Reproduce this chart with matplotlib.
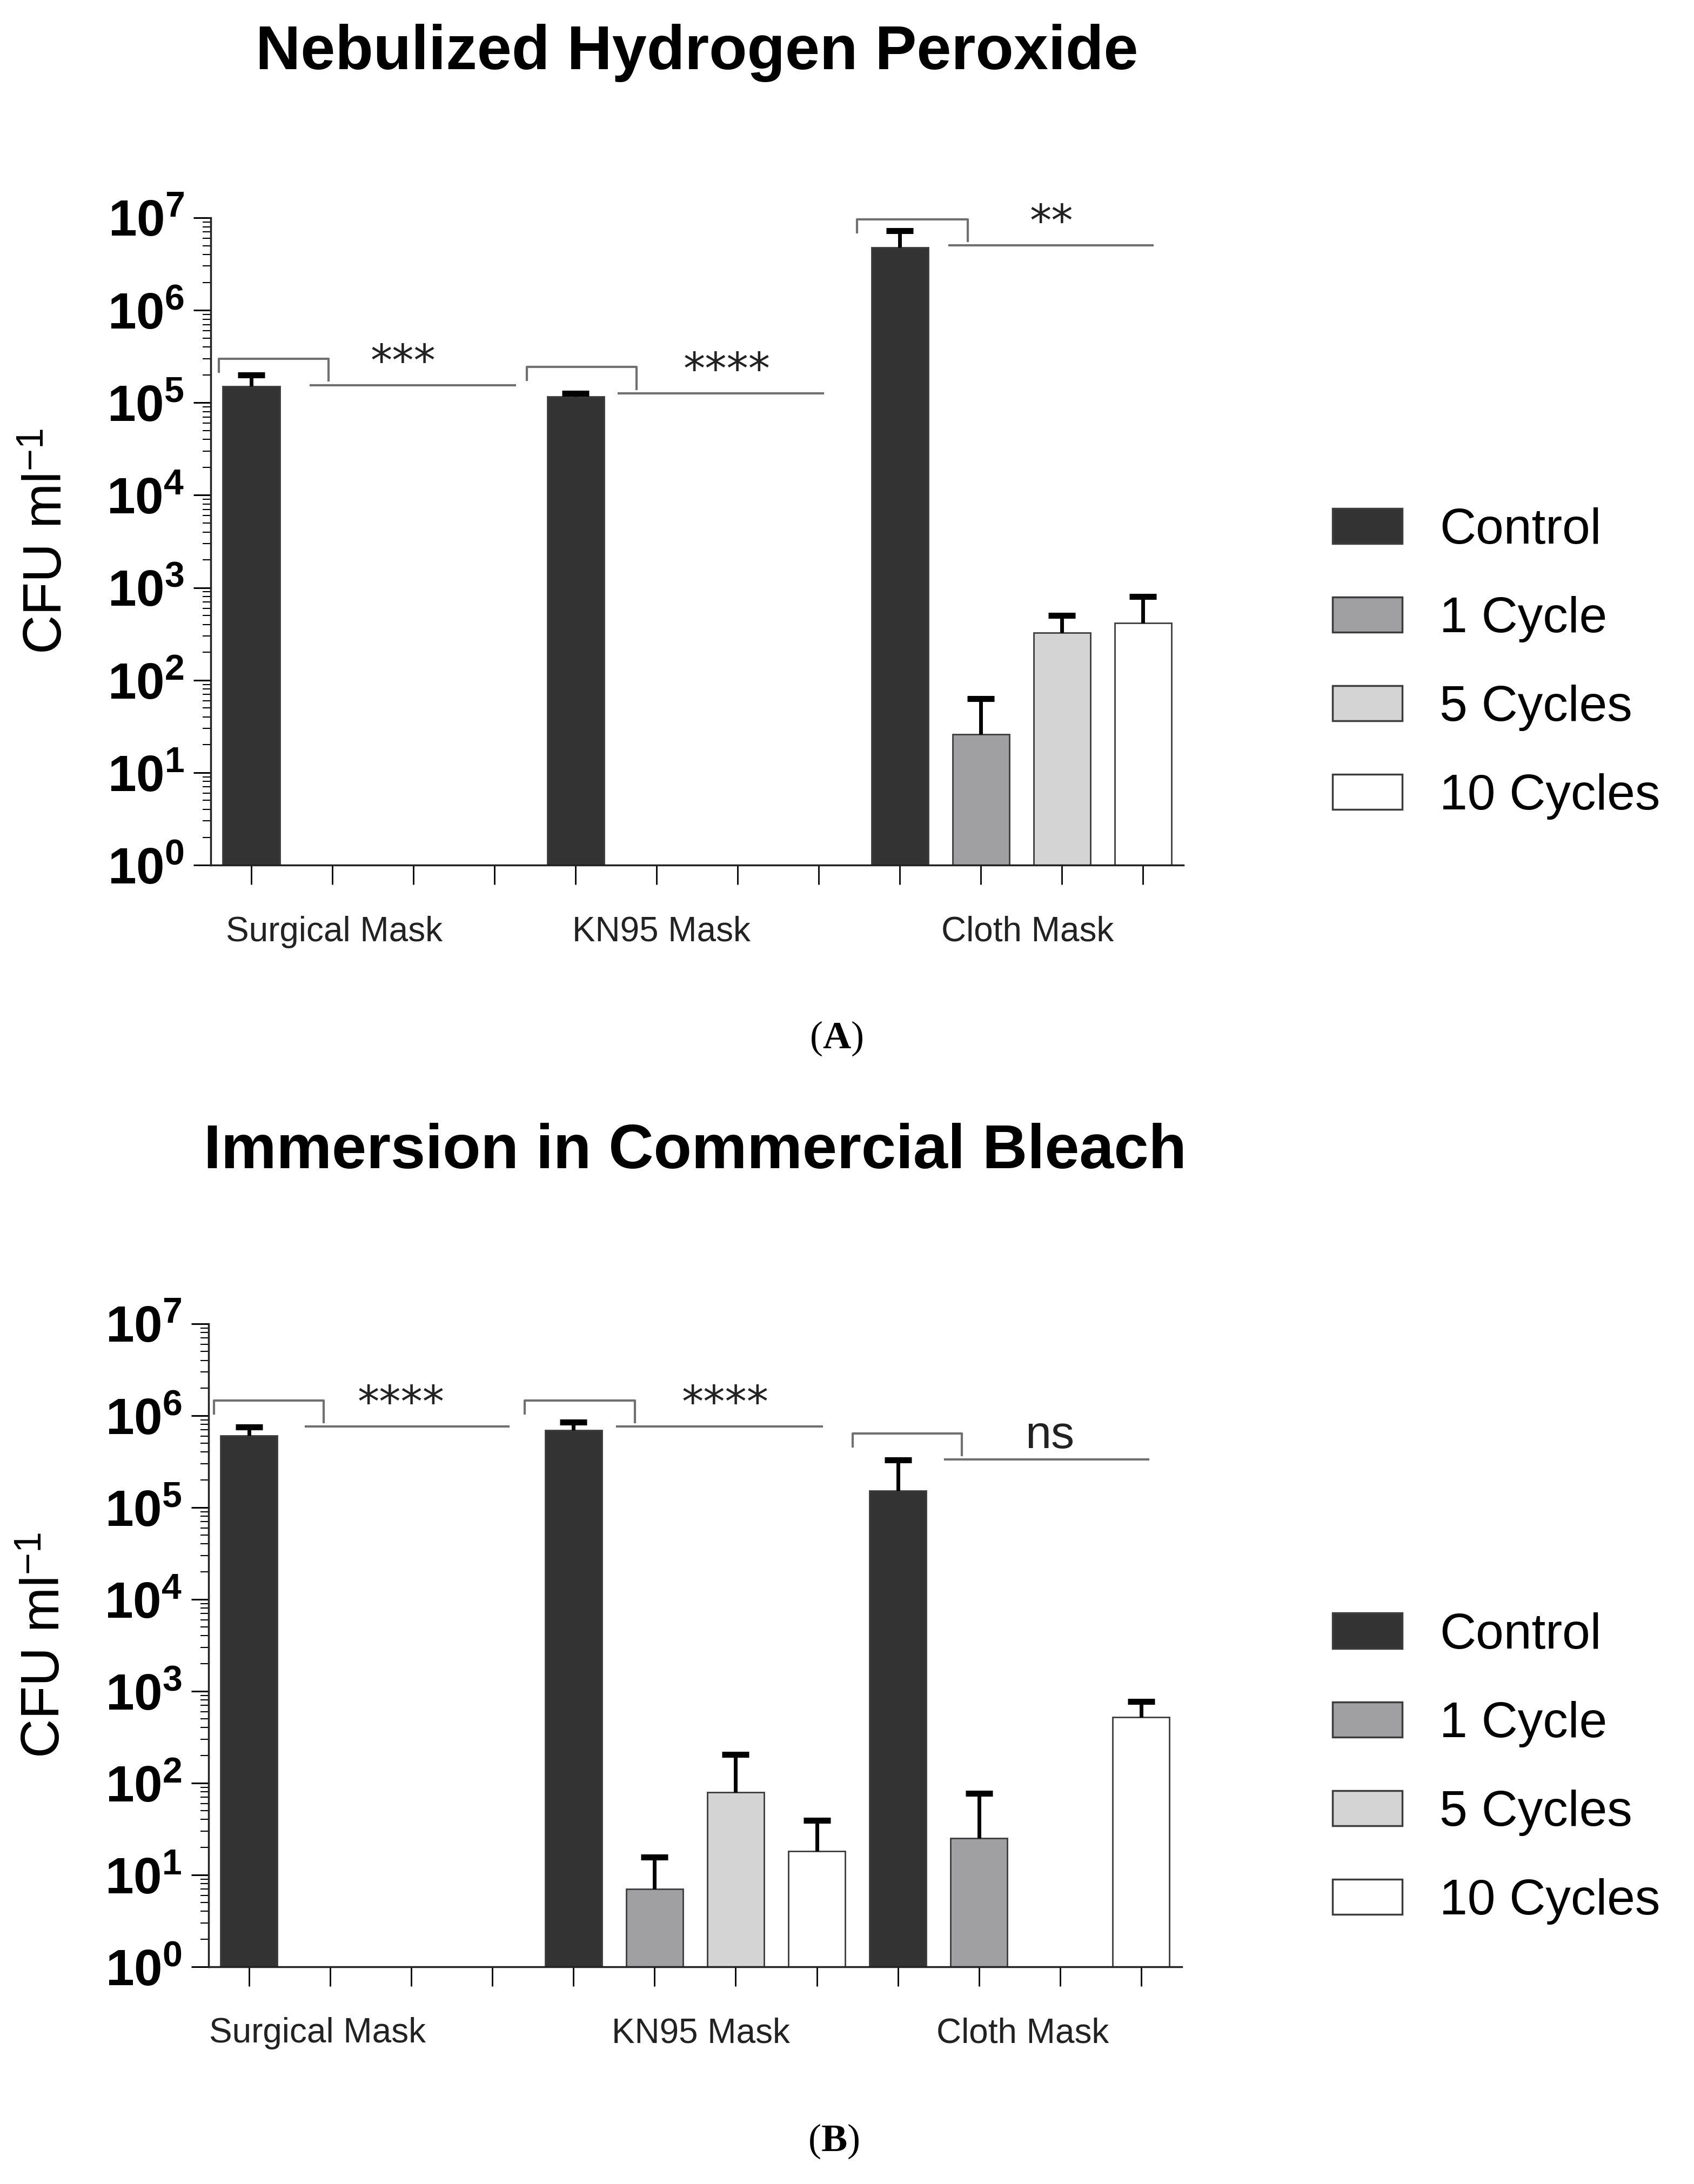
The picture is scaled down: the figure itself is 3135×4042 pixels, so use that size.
import numpy as np
import matplotlib
matplotlib.use('Agg')
import matplotlib.pyplot as plt
from matplotlib.ticker import LogLocator, FuncFormatter, NullFormatter
from matplotlib.patches import Patch

plt.rcParams['font.family'] = ['Liberation Sans', 'DejaVu Sans']
plt.rcParams['mathtext.fontset'] = 'custom'
plt.rcParams['mathtext.rm'] = 'Liberation Serif'
plt.rcParams['mathtext.it'] = 'Liberation Serif:bold'
plt.rcParams['mathtext.bf'] = 'Liberation Sans:bold'
plt.rcParams['mathtext.sf'] = 'Liberation Sans'

masks = ['Surgical Mask', 'KN95 Mask', 'Cloth Mask']
series = ['Control', '1 Cycle', '5 Cycles', '10 Cycles']
colors = ['#333333', '#a0a0a3', '#d4d4d4', '#ffffff']

# (A) nebulized hydrogen peroxide, CFU/ml (0 = no growth), upper SD
h2o2_control = [1.5e5, 1.17e5, 4.75e6]
h2o2_cycle1 = [0, 0, 26]
h2o2_cycle5 = [0, 0, 327]
h2o2_cycle10 = [0, 0, 414]
h2o2_control_err = [0.5e5, 0.09e5, 2.5e6]
h2o2_cycle1_err = [0, 0, 37]
h2o2_cycle5_err = [0, 0, 172]
h2o2_cycle10_err = [0, 0, 386]
h2o2_sig = ['***', '****', '**']

# (B) immersion in commercial bleach
bleach_control = [6.06e5, 6.93e5, 1.52e5]
bleach_cycle1 = [0, 7.0, 25]
bleach_cycle5 = [0, 79, 0]
bleach_cycle10 = [0, 18.2, 522]
bleach_control_err = [1.4e5, 1.6e5, 1.78e5]
bleach_cycle1_err = [0, 8.6, 52]
bleach_cycle5_err = [0, 126, 0]
bleach_cycle10_err = [0, 21, 250]
bleach_sig = ['****', '****', 'ns']


def draw_panel(ax, values, errors, sig, sig_levels, bracket_x, label_x, legend_y):
    ax.set_yscale('log')
    for s in range(4):
        xs = np.arange(3) * 4 + s
        h = np.array(values[s], dtype=float)
        e = np.array(errors[s], dtype=float)
        keep = h > 0
        ax.bar(xs[keep], h[keep], width=0.7, color=colors[s], edgecolor='#3c3c3c',
               linewidth=2, zorder=2)
        eb = ax.errorbar(xs[keep], h[keep], yerr=[np.zeros(keep.sum()), e[keep]],
                         fmt='none', ecolor='black', elinewidth=5, capsize=18,
                         capthick=8, zorder=3)
        eb[1][0].set_visible(False)

    ax.set_xlim(-0.5, 11.5)
    ax.set_ylim(1, 1e7)
    ax.set_xticks(np.arange(12))
    ax.set_xticklabels([])
    ax.yaxis.set_major_locator(LogLocator(base=10, numticks=10))
    ax.yaxis.set_minor_locator(LogLocator(base=10, subs=np.arange(2, 10), numticks=10))
    ax.yaxis.set_minor_formatter(NullFormatter())
    ax.yaxis.set_major_formatter(FuncFormatter(
        lambda v, p: r'$\mathbf{10^{%d}}$' % round(np.log10(v))))
    ax.tick_params(axis='y', which='major', length=23, width=2.2, pad=12, labelsize=68)
    ax.tick_params(axis='y', which='minor', length=11, width=1.5)
    ax.tick_params(axis='x', length=26, width=2)
    for side in ['top', 'right']:
        ax.spines[side].set_visible(False)
    for side in ['left', 'bottom']:
        ax.spines[side].set_linewidth(2.5)
        ax.spines[side].set_color('#222222')

    ax.set_ylabel(r'CFU ml$^{\mathsf{-1}}$', fontsize=72)
    ax.yaxis.label.set_va('center')
    ax.yaxis.set_label_coords(-0.168, 0.5)

    for g in range(3):
        ax.annotate(masks[g], xy=(label_x[g], 0), xycoords=('data', 'axes fraction'),
                    xytext=(0, -89), textcoords='offset points',
                    ha='center', va='center', fontsize=46, color='#222222')

    # significance brackets: control vs treated cycles
    for g in range(3):
        x0 = g * 4
        left, right, start, end = bracket_x[g]
        line_y = sig_levels[g]
        top = line_y + 0.285
        kw = dict(color='#707070', lw=3, clip_on=False, zorder=4)
        ax.plot([x0 + left, x0 + left, x0 + right, x0 + right],
                [10 ** (top - 0.14), 10 ** top, 10 ** top, 10 ** (line_y + 0.05)], **kw)
        ax.plot([x0 + start, x0 + end], [10 ** line_y, 10 ** line_y], **kw)
        if sig[g] == 'ns':
            ax.text(x0 + 1.87, 10 ** (top - 0.03), sig[g], ha='center', va='center',
                    fontsize=62, color='#222222')
        else:
            ax.text(x0 + 1.87, 10 ** (top - 0.05), sig[g], ha='center', va='center',
                    fontsize=58, family='DejaVu Sans', color='#222222')

    handles = [Patch(facecolor=colors[s], edgecolor='#3c3c3c', linewidth=2.5)
               for s in range(4)]
    ax.legend(handles, series, loc='center left', bbox_to_anchor=(0.7866, legend_y),
              bbox_transform=ax.figure.transFigure, frameon=False, fontsize=67,
              handlelength=1.39, handleheight=0.7, handletextpad=0.74,
              labelspacing=0.84, borderpad=0, borderaxespad=0)


fig = plt.figure(figsize=(31.35, 40.42), dpi=100)
ax_a = fig.add_axes([0.1244, 0.6039, 0.5742, 0.2964])
ax_b = fig.add_axes([0.1231, 0.0995, 0.5745, 0.2944])

draw_panel(ax_a,
           [h2o2_control, h2o2_cycle1, h2o2_cycle5, h2o2_cycle10],
           [h2o2_control_err, h2o2_cycle1_err, h2o2_cycle5_err, h2o2_cycle10_err],
           h2o2_sig, [5.19, 5.10, 6.70],
           [(-0.40, 0.95, 0.73, 3.25), (-0.60, 0.75, 0.53, 3.05), (-0.53, 0.84, 0.61, 3.12)],
           [1.02, 5.06, 9.58], 0.6962)
draw_panel(ax_b,
           [bleach_control, bleach_cycle1, bleach_cycle5, bleach_cycle10],
           [bleach_control_err, bleach_cycle1_err, bleach_cycle5_err, bleach_cycle10_err],
           bleach_sig, [5.88, 5.88, 5.52],
           [(-0.43, 0.92, 0.70, 3.20), (-0.60, 0.76, 0.54, 3.06), (-0.56, 0.79, 0.58, 3.09)],
           [0.84, 5.57, 9.54], 0.1903)

fig.text(0.4115, 0.9683, 'Nebulized Hydrogen Peroxide', ha='center', va='baseline',
         fontsize=83, fontweight='bold')
fig.text(0.4105, 0.4651, 'Immersion in Commercial Bleach', ha='center', va='baseline',
         fontsize=83, fontweight='bold')
fig.text(0.4935, 0.5245, r'$\mathrm{(}\mathit{A}\mathrm{)}$', ha='center', va='center',
         fontsize=52)
fig.text(0.4919, 0.0195, r'$\mathrm{(}\mathit{B}\mathrm{)}$', ha='center', va='center',
         fontsize=52)

fig.savefig('out.png', dpi=100, facecolor='white')
